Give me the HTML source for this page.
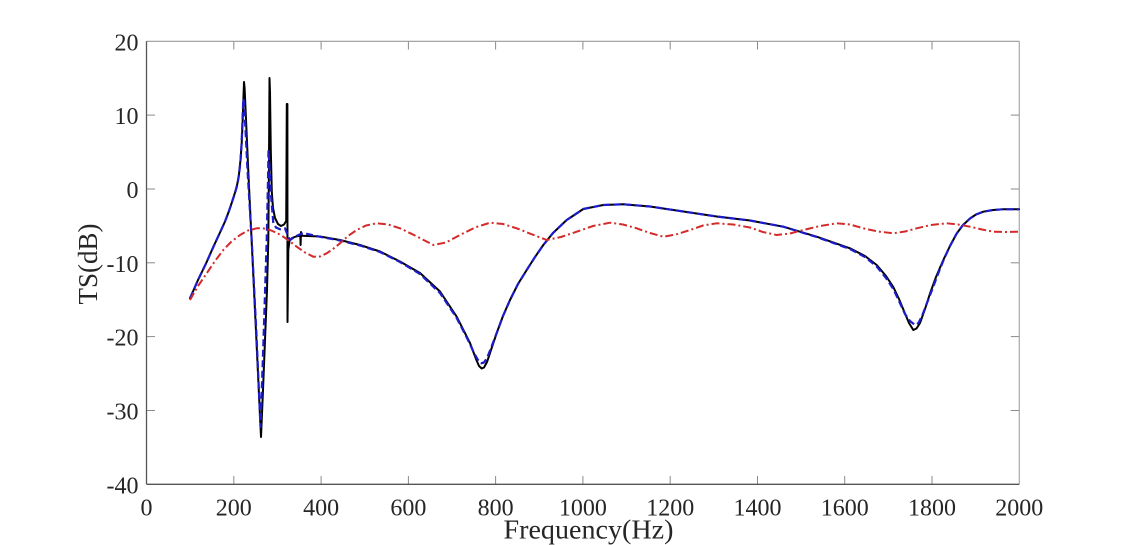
<!DOCTYPE html>
<html>
<head>
<meta charset="utf-8">
<style>
html,body{margin:0;padding:0;background:#fff;}
svg{display:block;}
text{font-family:"Liberation Serif","DejaVu Serif",serif;fill:#262626;}
</style>
</head>
<body>
<svg width="1126" height="545" viewBox="0 0 1126 545" xmlns="http://www.w3.org/2000/svg">
<rect x="0" y="0" width="1126" height="545" fill="#fff"/>

<!-- ticks -->
<g stroke="#8a8a8a" stroke-width="1">
  <line x1="233.8" y1="484.3" x2="233.8" y2="476"/>
  <line x1="321.1" y1="484.3" x2="321.1" y2="476"/>
  <line x1="408.4" y1="484.3" x2="408.4" y2="476"/>
  <line x1="495.6" y1="484.3" x2="495.6" y2="476"/>
  <line x1="582.9" y1="484.3" x2="582.9" y2="476"/>
  <line x1="670.2" y1="484.3" x2="670.2" y2="476"/>
  <line x1="757.5" y1="484.3" x2="757.5" y2="476"/>
  <line x1="844.7" y1="484.3" x2="844.7" y2="476"/>
  <line x1="932.0" y1="484.3" x2="932.0" y2="476"/>
  <line x1="233.8" y1="41.3" x2="233.8" y2="49.5"/>
  <line x1="321.1" y1="41.3" x2="321.1" y2="49.5"/>
  <line x1="408.4" y1="41.3" x2="408.4" y2="49.5"/>
  <line x1="495.6" y1="41.3" x2="495.6" y2="49.5"/>
  <line x1="582.9" y1="41.3" x2="582.9" y2="49.5"/>
  <line x1="670.2" y1="41.3" x2="670.2" y2="49.5"/>
  <line x1="757.5" y1="41.3" x2="757.5" y2="49.5"/>
  <line x1="844.7" y1="41.3" x2="844.7" y2="49.5"/>
  <line x1="932.0" y1="41.3" x2="932.0" y2="49.5"/>
  <line x1="146.5" y1="115.1" x2="155" y2="115.1"/>
  <line x1="146.5" y1="189.0" x2="155" y2="189.0"/>
  <line x1="146.5" y1="262.8" x2="155" y2="262.8"/>
  <line x1="146.5" y1="336.6" x2="155" y2="336.6"/>
  <line x1="146.5" y1="410.5" x2="155" y2="410.5"/>
  <line x1="1019.3" y1="115.1" x2="1010.8" y2="115.1"/>
  <line x1="1019.3" y1="189.0" x2="1010.8" y2="189.0"/>
  <line x1="1019.3" y1="262.8" x2="1010.8" y2="262.8"/>
  <line x1="1019.3" y1="336.6" x2="1010.8" y2="336.6"/>
  <line x1="1019.3" y1="410.5" x2="1010.8" y2="410.5"/>
</g>

<!-- box -->
<line x1="146.5" y1="41.3" x2="1019.3" y2="41.3" stroke="#9a9a9a" stroke-width="1.2"/>
<line x1="1019.3" y1="41.3" x2="1019.3" y2="484.3" stroke="#a8a8a8" stroke-width="1.2"/>
<line x1="146.5" y1="41.3" x2="146.5" y2="484.3" stroke="#555" stroke-width="1.3"/>
<line x1="146.5" y1="484.3" x2="1019.3" y2="484.3" stroke="#555" stroke-width="1.3"/>

<!-- black solid -->
<polyline fill="none" stroke="#000" stroke-width="2" stroke-linejoin="round" stroke-linecap="round"
points="190,298.3 198,280 206,263.5 213.3,247 220,232.5 225,221.5 229,211 232,202 235,192.5 237.3,184 239,174 240.5,160 241.7,143.3 242.7,120 243.5,96 244,82 244.6,88 248.7,180 251.6,240 256.4,340 261,437 263,390 265,340 267,290 268.3,240 269,160 269.5,78 270,92 270.8,150 271.8,192 273,208 275,218 278,224 281,226 284,224.5 286.2,221 286.8,104 287.4,104 287.5,322 288.3,250 289.5,241 292,238 296,236.5 300.3,235.5 300.6,245 301,232 302,235.8 320,236.5 340,240 360,245 380,251.5 400,261.5 420,273 440,291.5 456.7,316.7 470,343 476,359 479,366 481.7,368.5 484,367.5 487,362 491,350 496.7,333 503,316 510,300 518,284 526.7,270 535,257 543.3,245 553,233 566.7,220 583.3,209 603.3,205 623.3,204.3 650,206.5 683.3,211.5 716.7,216.5 750,220.5 783.3,226.7 816.7,236.7 850,248.3 865,256 876.7,265 886,276 893.3,287 899,299 905,313.5 909,323 913.3,330 916.5,328.5 920,323 925,309 930,293.5 936,277 943.3,260 950,246 956.7,233.5 963,225 970,218.5 976,214.5 983.3,211.7 993,210 1003.3,209.3 1019,209.3"/>

<!-- blue dashed -->
<polyline fill="none" stroke="#1c1ccc" stroke-width="2.2" stroke-dasharray="7 3.5" stroke-linejoin="round"
points="190,298.3 198,280 206,263.5 213.3,247 220,232.5 225,221.5 229,211 232,202 235,193 237.3,185 239,175 240.5,161 241.5,145 242.5,120 243.3,98.5 244.2,104 247.5,170 251.7,240 256.5,335 260.5,427 263.5,340 266.7,240 268,180 268.5,150 269.2,162 271,195 273.3,223 276,227.5 280,229.3 285,228.3 288,236 290,240 295,236.7 303,233 320,236.8 340,240.5 360,245.5 380,252 400,262 420,274 440,293 456.7,318 468,340 474,353 478,360 481,363.3 484,362.5 487,358 491,348 496.7,333 503,316 510,300 518,284 526.7,270 535,257 543.3,245 553,233 566.7,220 583.3,209 603.3,205 623.3,204.3 650,206.5 683.3,211.5 716.7,216.5 750,220.5 783.3,226.7 816.7,237 850,249 865,257 876.7,266.5 886,278 893.3,289 899,301 905,314 910,321 915,325 918.5,323 922,316 927,303 932,290 938,274 944,259 950,246 956.7,233.5 963,225 970,218.5 976,214.5 983.3,211.7 993,210 1003.3,209.3 1019,209.3"/>

<!-- red dash-dot -->
<polyline fill="none" stroke="#d42a2a" stroke-width="2" stroke-dasharray="8 3 2 3" stroke-linejoin="round"
points="190,300 198,286 206.7,273.3 215,261 223.3,250 231,242 240,235 248,230.5 256.7,228.3 263,228.3 270,230 277,233 283.3,236.7 290,241.5 296.7,246.7 305,252.5 313.3,256.7 320,256.5 326.7,253.3 333,249 340,243.3 348,236 356.7,230 366,225.5 376.7,223.3 388,224.5 400,228.3 416,236 433.3,245 446,242.5 460,235 475,227.5 490,222.7 503,224 516.7,228.3 531,234 546.7,240 561,237 576.7,231.7 593,226 610,222.7 623,224.5 636.7,228.3 650,233 663.3,236.7 676,234.5 690,230 703,225.5 716.7,223.3 733,224.5 750,227.5 763,232 776.7,235 790,233.5 803.3,230 820,226 836.7,223.3 850,224.5 863.3,228.3 878,231.5 893.3,233.3 905,231.5 916.7,228.3 931,225 946.7,223.3 958,224.5 970,226.7 982,229.5 993.3,231.7 1006,232 1018.3,231.7"/>

<!-- y tick labels -->
<g font-size="24" text-anchor="end">
  <text x="138.5" y="50.5">20</text>
  <text x="138.5" y="124.2">10</text>
  <text x="138.5" y="198.1">0</text>
  <text x="138.5" y="271.9">-10</text>
  <text x="138.5" y="345.7">-20</text>
  <text x="138.5" y="419.6">-30</text>
  <text x="138.5" y="493.6">-40</text>
</g>

<!-- x tick labels -->
<g font-size="24" text-anchor="middle">
  <text x="146.5" y="515.5">0</text>
  <text x="233.8" y="515.5">200</text>
  <text x="321.1" y="515.5">400</text>
  <text x="408.4" y="515.5">600</text>
  <text x="495.6" y="515.5">800</text>
  <text x="582.9" y="515.5">1000</text>
  <text x="670.2" y="515.5">1200</text>
  <text x="757.5" y="515.5">1400</text>
  <text x="844.7" y="515.5">1600</text>
  <text x="932.0" y="515.5">1800</text>
  <text x="1019.3" y="515.5">2000</text>
</g>

<!-- axis labels -->
<text x="503.5" y="538.3" font-size="27" textLength="170" lengthAdjust="spacingAndGlyphs">Frequency(Hz)</text>
<text transform="translate(97,264) rotate(-90)" x="0" y="0" font-size="27" text-anchor="middle">TS(dB)</text>
</svg>
</body>
</html>
